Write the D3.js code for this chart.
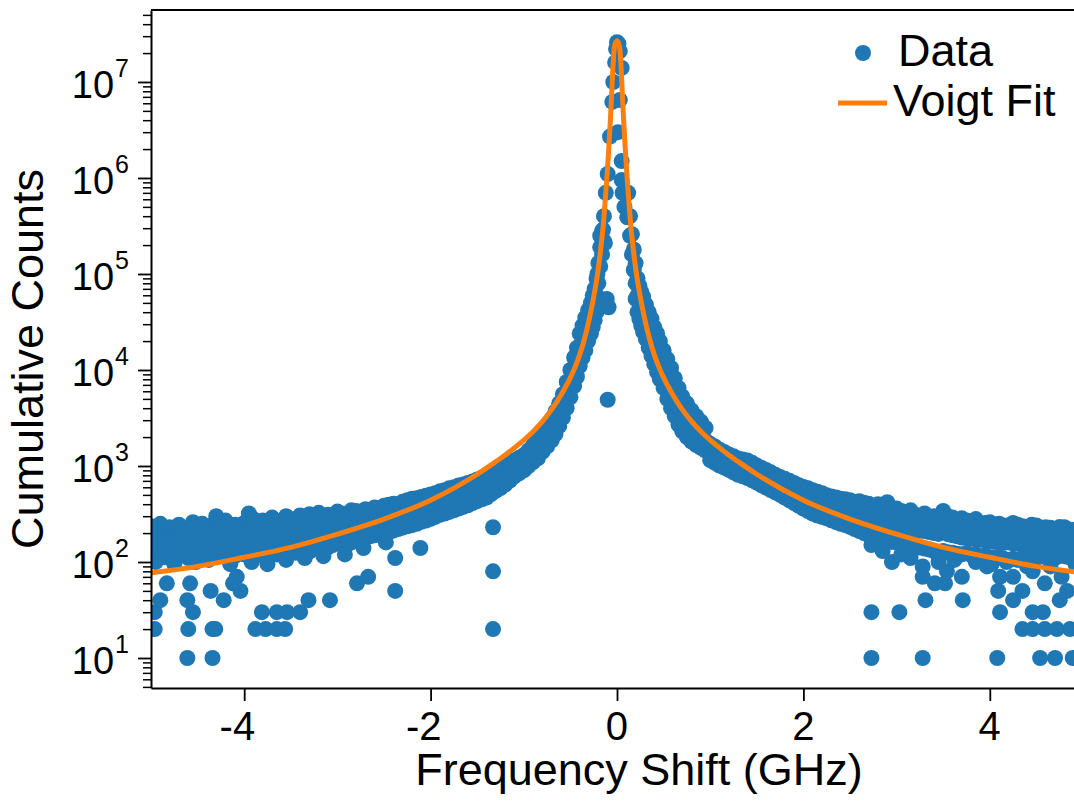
<!DOCTYPE html>
<html>
<head>
<meta charset="utf-8">
<script src="https://cdn.jsdelivr.net/npm/d3@7"></script>
<style>
  body { margin: 0; background: #fff; }
  text { font-family: "Liberation Sans", Arial, sans-serif; fill: #000; }
</style>
</head>
<body>
<div id="chart"></div>
<script>
// tick values
const xTicks = [-4, -2, 0, 2, 4];
const yDecades = [1, 2, 3, 4, 5, 6, 7];

// Voigt fit
const fitX = [-5, -4.5, -4, -3.5, -3, -2.5, -2, -1.5, -1.3, -1.2, -1.1, -1.0, -0.9, -0.8, -0.7, -0.6, -0.5, -0.45, -0.4, -0.35, -0.3, -0.25, -0.2,
  -0.17, -0.15, -0.13, -0.11, -0.09, -0.07, -0.055, -0.04, -0.025, 0,
  0.025, 0.04, 0.055, 0.07, 0.09, 0.11, 0.13, 0.15, 0.17,
  0.2, 0.25, 0.3, 0.35, 0.4, 0.45, 0.5, 0.6, 0.7, 0.8, 0.9, 1.0, 1.1, 1.2, 1.3, 1.5, 2, 2.5, 3, 3.5, 4, 4.5, 5];
const fitY = [77, 90, 112, 142, 195, 280, 440, 820, 1110, 1300, 1550, 1860, 2290, 2920, 3890, 5500, 8320, 10700, 14450, 20900, 33100, 57500, 115000,
  200000, 302000, 525000, 955000, 1905000, 4170000, 8320000, 16600000, 24000000, 26900000,
  24000000, 16600000, 8320000, 4170000, 1905000, 955000, 525000, 302000, 200000,
  115000, 57500, 33100, 20900, 14450, 10700, 8320, 5500, 3890, 2920, 2290, 1860, 1550, 1300, 1110, 820, 440, 280, 195, 142, 112, 90, 77];

// data: rows of [x, counts...]
const leftWing = [
  [-5.00, 235, 198, 165, 118], [-4.95, 200, 168, 140, 125], [-4.90, 250, 212, 180, 130], [-4.85, 215, 180, 150, 112],
  [-4.80, 230, 198, 170, 122], [-4.75, 195, 170, 145, 115], [-4.70, 245, 212, 185, 135], [-4.65, 220, 188, 160, 118],
  [-4.60, 205, 175, 150, 110], [-4.55, 260, 222, 190, 125], [-4.50, 230, 200, 175, 130], [-4.45, 250, 200, 160, 115],
  [-4.40, 225, 195, 170, 120], [-4.35, 240, 190, 150, 112], [-4.30, 300, 248, 205, 135], [-4.25, 255, 215, 180, 120],
  [-4.20, 270, 225, 185, 140], [-4.15, 235, 198, 165, 118], [-4.10, 245, 198, 160, 115], [-4.05, 220, 182, 150, 125],
  [-4.00, 255, 212, 175, 120], [-3.95, 320, 262, 215, 140], [-3.90, 280, 234, 195, 130], [-3.85, 250, 206, 170, 118],
  [-3.80, 270, 226, 190, 122], [-3.75, 240, 196, 160, 115], [-3.70, 290, 232, 185, 125], [-3.65, 265, 215, 175, 120],
  [-3.60, 255, 208, 170, 128], [-3.55, 300, 245, 200, 135], [-3.50, 280, 234, 195, 130], [-3.45, 260, 216, 180, 125],
  [-3.40, 305, 253, 210, 140], [-3.35, 285, 232, 190, 130], [-3.30, 315, 248, 195, 128], [-3.25, 290, 244, 205, 145],
  [-3.20, 325, 268, 220, 150], [-3.15, 300, 245, 200, 138], [-3.10, 310, 258, 215, 142], [-3.05, 295, 246, 205, 150],
  [-3.00, 335, 278, 230, 160], [-2.95, 320, 225, 155], [-2.90, 310, 215, 150], [-2.85, 345, 235, 160],
  [-2.80, 340, 240, 168], [-2.75, 330, 245, 175], [-2.70, 355, 250, 178], [-2.65, 350, 255, 185],
  [-2.60, 370, 265, 190], [-2.55, 365, 270, 195], [-2.50, 385, 280, 200], [-2.45, 395, 290, 205],
  [-2.40, 405, 300, 212], [-2.35, 400, 305, 220], [-2.30, 425, 315, 228], [-2.25, 440, 320, 235],
  [-2.20, 455, 335, 242], [-2.15, 460, 345, 250], [-2.10, 475, 355, 262], [-2.05, 490, 365, 270],
  [-2.00, 505, 380, 282], [-1.95, 520, 395, 295], [-1.90, 545, 410, 310], [-1.85, 560, 425, 320],
  [-1.80, 585, 440, 332], [-1.75, 600, 455, 345], [-1.70, 625, 470, 360], [-1.65, 640, 490, 375],
  [-1.60, 665, 510, 390], [-1.55, 690, 535, 410], [-1.50, 725, 560, 430], [-1.45, 755, 585, 450],
  [-1.40, 790, 610, 470], [-1.35, 835, 650, 510], [-1.30, 880, 700, 550], [-1.25, 935, 745, 590],
  [-1.20, 1000, 800, 640], [-1.15, 1070, 870, 705], [-1.10, 1150, 950, 780], [-1.05, 1220, 1010, 840]
];
const leftFlank = [
  [-1.0, 1300, 1080, 900], [-0.95, 1450, 1200, 1000], [-0.90, 1650, 1350, 1100], [-0.85, 1900, 1500, 1200],
  [-0.80, 2200, 1750, 1400], [-0.75, 2600, 2050, 1600], [-0.70, 3100, 2400, 1850], [-0.66, 3700, 2800, 2150],
  [-0.62, 4500, 3400, 2600], [-0.58, 5600, 4200, 3200], [-0.54, 7500, 5500, 4000], [-0.50, 10000, 7200, 5200],
  [-0.46, 13500, 9500, 6800], [-0.43, 17000, 12000, 8500], [-0.40, 24000, 16000, 11000], [-0.37, 29000, 20000, 13500],
  [-0.34, 35000, 24000, 16000], [-0.31, 42000, 29000, 20000], [-0.28, 50000, 35000, 24000], [-0.26, 60000, 41000, 28000],
  [-0.24, 70000, 48000, 33000], [-0.22, 90000, 60000, 40000], [-0.20, 130000, 80000, 55000], [-0.18, 190000, 120000],
  [-0.16, 280000, 160000], [-0.14, 400000, 220000], [-0.12, 700000]
];
const rightFlank = [
  [0.12, 700000, 400000], [0.14, 400000, 250000], [0.16, 260000, 160000], [0.18, 180000, 110000],
  [0.20, 130000, 80000, 55000], [0.22, 90000, 60000, 40000], [0.24, 75000, 50000, 34000], [0.26, 65000, 43000, 29000],
  [0.28, 58000, 38000, 25000], [0.31, 48000, 32000, 21000], [0.34, 40000, 26000, 17000], [0.37, 34000, 21000, 14000],
  [0.40, 28000, 18000, 11500], [0.43, 24000, 15000, 9500], [0.46, 20000, 12500, 8000], [0.50, 16000, 10000, 6500],
  [0.54, 13000, 8000, 5000], [0.58, 10500, 6300, 4000], [0.62, 8200, 5000, 3300], [0.66, 6500, 4000, 2700],
  [0.70, 5300, 3300, 2300], [0.75, 4500, 2800, 2000], [0.80, 3800, 2500, 1800], [0.85, 3300, 2200, 1650],
  [0.90, 2900, 2000, 1550], [0.95, 2500, 1850, 1450]
];
const rightWing = [
  [1.00, 1700, 1400, 1150], [1.05, 1600, 1300, 1080], [1.10, 1480, 1220, 1010], [1.15, 1400, 1150, 960],
  [1.20, 1320, 1090, 910], [1.25, 1260, 1030, 860], [1.30, 1200, 980, 810], [1.35, 1170, 940, 780],
  [1.40, 1140, 900, 750], [1.45, 1080, 860, 710], [1.50, 1010, 810, 670], [1.55, 960, 770, 630],
  [1.60, 910, 725, 595], [1.65, 860, 685, 560], [1.70, 810, 645, 530], [1.75, 770, 610, 500],
  [1.80, 735, 580, 470], [1.85, 700, 550, 440], [1.90, 665, 520, 410], [1.95, 630, 495, 385],
  [2.00, 605, 470, 360], [2.05, 585, 445, 340], [2.10, 560, 425, 320], [2.15, 540, 405, 305],
  [2.20, 520, 390, 295], [2.25, 495, 375, 285], [2.30, 480, 360, 272], [2.35, 470, 350, 260],
  [2.40, 455, 340, 250], [2.45, 450, 330, 242], [2.50, 440, 320, 232], [2.55, 420, 360, 305, 220],
  [2.60, 430, 355, 300, 210], [2.65, 415, 345, 290, 200], [2.70, 405, 340, 285, 190], [2.75, 380, 322, 275, 182],
  [2.80, 400, 330, 270, 175], [2.85, 375, 312, 262, 170], [2.90, 420, 330, 258, 165], [2.95, 365, 300, 250, 162],
  [3.00, 360, 300, 248, 160], [3.05, 340, 285, 238, 155], [3.10, 330, 275, 230, 150], [3.15, 345, 280, 225, 145],
  [3.20, 310, 258, 215, 140], [3.25, 300, 252, 212, 142], [3.30, 320, 260, 210, 138], [3.35, 295, 246, 205, 135],
  [3.40, 300, 245, 200, 130], [3.45, 285, 236, 196, 128], [3.50, 340, 268, 210, 130], [3.55, 300, 242, 195, 126],
  [3.60, 290, 235, 190, 125], [3.65, 275, 226, 185, 122], [3.70, 285, 228, 180, 120], [3.75, 270, 220, 178, 124],
  [3.80, 265, 215, 175, 118], [3.85, 280, 220, 172, 120], [3.90, 250, 206, 170, 115], [3.95, 255, 207, 168, 117],
  [4.00, 260, 208, 165, 112], [4.05, 245, 200, 162, 110], [4.10, 250, 200, 160, 113], [4.15, 240, 195, 158, 108],
  [4.20, 240, 196, 160, 105], [4.25, 255, 200, 156, 108], [4.30, 245, 195, 155, 105], [4.35, 235, 190, 152, 110],
  [4.40, 230, 186, 150, 108], [4.45, 245, 194, 154, 112], [4.50, 240, 193, 155, 110], [4.55, 225, 184, 150, 114],
  [4.60, 230, 186, 150, 115], [4.65, 228, 184, 148, 112], [4.70, 220, 182, 150, 110], [4.75, 232, 190, 156, 116],
  [4.80, 230, 189, 155, 115], [4.85, 218, 181, 150, 112], [4.90, 215, 180, 150, 115], [4.95, 225, 185, 152, 118],
  [5.00, 220, 182, 150, 110]
];
const peakPoints = [
  [0.0, 2.6e7], [0.015, 2.5e7], [-0.01, 2.2e7], [0.03, 2.1e7], [-0.02, 1.6e7], [0.05, 1.4e7],
  [-0.04, 1.0e7], [0.03, 6.5e6], [-0.05, 6.2e6], [0.01, 3.0e6], [-0.075, 2.7e6], [0.05, 1.5e6],
  [-0.10, 1.1e6], [0.05, 9.5e5], [0.06, 7e5], [0.08, 5e5], [0.11, 3.9e5], [-0.15, 2.9e5],
  [-0.13, 2.1e5], [-0.18, 2.5e5], [-0.11, 5.5e4], [-0.09, 4.5e4], [-0.21, 1.0e5], [-0.10, 4900]
];
const leftLow = [
  [-4.95, 100], [-4.75, 95], [-4.52, 100], [-4.38, 105], [-4.15, 95], [-3.92, 100], [-3.75, 95],
  [-3.55, 105], [-3.35, 110], [-3.15, 115], [-2.92, 120], [-2.72, 140], [-2.48, 160],
  [-4.96, 30], [-4.55, 30], [-3.81, 30], [-3.65, 30], [-3.54, 30], [-3.40, 30],
  [-4.96, 20], [-4.60, 20], [-4.34, 20], [-4.31, 20], [-3.88, 20], [-3.77, 20], [-3.65, 20], [-3.56, 20],
  [-4.90, 40], [-4.61, 40], [-4.22, 40], [-3.31, 40], [-3.08, 40],
  [-4.36, 50], [-4.04, 50], [-2.38, 50], [-4.83, 60], [-4.58, 60], [-4.12, 60], [-2.79, 60],
  [-2.67, 70], [-4.08, 70], [-1.33, 80], [-4.61, 10], [-4.34, 10], [-1.33, 20], [-2.38, 110],
  [-2.11, 140], [-1.33, 230]
];
const rightLow = [
  [2.73, 150], [2.95, 100], [3.28, 90], [3.28, 70], [3.41, 60], [3.52, 60], [3.54, 80], [3.70, 70],
  [3.97, 90], [4.11, 70], [4.25, 70], [4.46, 80], [4.77, 70], [4.59, 60], [4.09, 50], [4.35, 50],
  [4.83, 50], [3.31, 40], [3.71, 40], [4.25, 40], [4.75, 40], [2.73, 30], [3.03, 30], [4.11, 30],
  [4.46, 30], [4.57, 30], [4.35, 20], [4.46, 20], [4.59, 20], [4.72, 20], [4.86, 20], [4.98, 20],
  [2.73, 10], [3.28, 10], [4.08, 10], [4.54, 10], [4.70, 10], [4.89, 10],
  [3.15, 110], [3.45, 100], [3.62, 105], [3.85, 100], [4.02, 95], [4.18, 100], [4.4, 90],
  [4.65, 90], [4.92, 95], [2.85, 130], [3.05, 120]
];

const W = 1074, H = 804;
const plotLeft = 151, plotRight = 1083, plotTop = 10, plotBottom = 688;
const blue = "#1f77b4", orange = "#ff7f0e";

const svg = d3.select("#chart").append("svg")
  .attr("width", W).attr("height", H);

const x = d3.scaleLinear().domain([-5, 5]).range([plotLeft, plotRight]);
const y = d3.scaleLog().domain([4.87, 5.62e7]).range([plotBottom, plotTop]);

svg.append("clipPath").attr("id", "plot")
  .append("rect").attr("x", plotLeft).attr("y", plotTop)
  .attr("width", plotRight - plotLeft).attr("height", plotBottom - plotTop);

// flatten rows into points
const points = [];
[leftWing, leftFlank, rightFlank, rightWing].forEach(rows =>
  rows.forEach(r => r.slice(1).forEach(v => points.push([r[0], v]))));
peakPoints.concat(leftLow, rightLow).forEach(p => points.push(p));

const plot = svg.append("g").attr("clip-path", "url(#plot)");
plot.selectAll("circle").data(points).enter().append("circle")
  .attr("cx", d => x(d[0]))
  .attr("cy", d => y(d[1]))
  .attr("r", 8)
  .attr("fill", blue);

const fit = fitX.map((v, i) => [v, fitY[i]]);
plot.append("path")
  .datum(fit)
  .attr("fill", "none")
  .attr("stroke", orange)
  .attr("stroke-width", 5)
  .attr("stroke-linejoin", "round")
  .attr("d", d3.line().x(d => x(d[0])).y(d => y(d[1])).curve(d3.curveMonotoneX));

// axes
const xAxis = svg.append("g")
  .attr("transform", "translate(0," + plotBottom + ")")
  .call(d3.axisBottom(x).tickValues(xTicks).tickSize(13).tickSizeOuter(0).tickFormat(""));
xAxis.selectAll("line").attr("stroke-width", 1.8);
xAxis.select(".domain").attr("stroke-width", 2);

const majors = yDecades.map(e => Math.pow(10, e));
const minors = [];
for (let e = 0; e <= 7; e++)
  for (let m = 2; m <= 9; m++) {
    const v = m * Math.pow(10, e);
    if (v >= 4.87 && v <= 5.62e7) minors.push(v);
  }

const yMinor = svg.append("g")
  .attr("transform", "translate(" + plotLeft + ",0)")
  .call(d3.axisLeft(y).tickValues(minors).tickSize(8).tickSizeOuter(0).tickFormat(""));
yMinor.selectAll("line").attr("stroke-width", 1.5);
yMinor.select(".domain").remove();

const yAxis = svg.append("g")
  .attr("transform", "translate(" + plotLeft + ",0)")
  .call(d3.axisLeft(y).tickValues(majors).tickSize(13).tickSizeOuter(0).tickFormat(""));
yAxis.selectAll("line").attr("stroke-width", 1.8);
yAxis.select(".domain").attr("stroke-width", 2);

// top spine
svg.append("line")
  .attr("x1", plotLeft).attr("x2", plotRight).attr("y1", plotTop).attr("y2", plotTop)
  .attr("stroke", "#000").attr("stroke-width", 2);

// tick labels
svg.append("g").selectAll("text").data(xTicks).enter().append("text")
  .attr("x", d => x(d) + 11)
  .attr("y", 740)
  .attr("text-anchor", "end")
  .attr("font-size", 40)
  .text(d => String(d));

const yl = svg.append("g").selectAll("text").data(yDecades).enter().append("text")
  .attr("x", 129)
  .attr("y", d => y(Math.pow(10, d)) + 16)
  .attr("text-anchor", "end")
  .attr("font-size", 38);
yl.append("tspan").text("10");
yl.append("tspan").attr("font-size", 25).attr("dx", 1).attr("dy", -21).text(d => d);

// axis titles
svg.append("text")
  .attr("x", 639).attr("y", 785)
  .attr("text-anchor", "middle")
  .attr("font-size", 45)
  .text("Frequency Shift (GHz)");

svg.append("text")
  .attr("transform", "translate(43,359) rotate(-90)")
  .attr("text-anchor", "middle")
  .attr("font-size", 45)
  .text("Cumulative Counts");

// legend
const legend = svg.append("g");
legend.append("circle").attr("cx", 863).attr("cy", 53).attr("r", 8).attr("fill", blue);
legend.append("text").attr("x", 898).attr("y", 66).attr("font-size", 45).text("Data");
legend.append("line").attr("x1", 838).attr("x2", 887).attr("y1", 103).attr("y2", 103)
  .attr("stroke", orange).attr("stroke-width", 5);
legend.append("text").attr("x", 893).attr("y", 116).attr("font-size", 45).text("Voigt Fit");
</script>
</body>
</html>
